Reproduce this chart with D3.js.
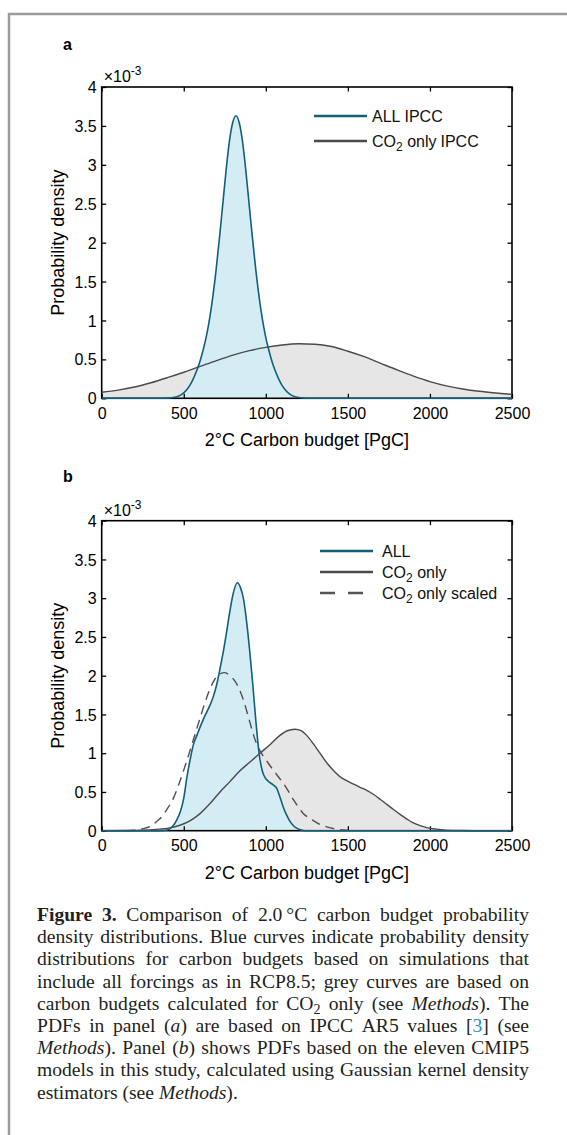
<!DOCTYPE html>
<html>
<head>
<meta charset="utf-8">
<script src="https://cdn.jsdelivr.net/npm/d3@7"></script>
<style>
html,body{margin:0;padding:0;background:#fff;}
svg{display:block;}
.sans{font-family:"Liberation Sans",Arial,Helvetica,sans-serif;}
.serif{font-family:"Liberation Serif","Times New Roman",serif;}
</style>
</head>
<body>
<div id="chart"></div>
<script>
// ---------------- DATA (values in units of 1e-3) ----------------
const xTicks = [0, 500, 1000, 1500, 2000, 2500];
const xTickLabels = ["0", "500", "1000", "1500", "2000", "2500"];
const yTicks = [0, 0.5, 1, 1.5, 2, 2.5, 3, 3.5, 4];
const yTickLabels = ["0", "0.5", "1", "1.5", "2", "2.5", "3", "3.5", "4"];

// Panel a: ALL IPCC
const aAllX = [0, 378, 418, 458, 488, 518, 538, 558, 578, 598, 618, 638, 658, 678, 698, 718, 738, 758, 778, 798, 818, 838, 858, 878, 898, 918, 938, 958, 978, 998, 1018, 1038, 1058, 1078, 1098, 1118, 1148, 1178, 1218, 1258, 2500];
const aAllY = [0, 0, 0.005, 0.02, 0.05, 0.11, 0.17, 0.25, 0.35, 0.47, 0.62, 0.8, 1.03, 1.32, 1.67, 2.07, 2.5, 2.93, 3.3, 3.54, 3.63, 3.54, 3.3, 2.93, 2.5, 2.07, 1.67, 1.32, 1.03, 0.8, 0.62, 0.47, 0.35, 0.25, 0.17, 0.11, 0.05, 0.02, 0.005, 0, 0];
// Panel a: CO2 only IPCC
const aCo2X = [0, 100, 200, 300, 400, 500, 600, 700, 800, 900, 1000, 1100, 1200, 1300, 1400, 1500, 1600, 1700, 1800, 1900, 2000, 2100, 2200, 2300, 2400, 2500];
const aCo2Y = [0.077, 0.105, 0.145, 0.2, 0.265, 0.335, 0.41, 0.485, 0.555, 0.612, 0.655, 0.685, 0.70, 0.695, 0.665, 0.605, 0.535, 0.45, 0.365, 0.285, 0.215, 0.16, 0.12, 0.09, 0.068, 0.05];

// Panel b: ALL
const bAllX = [0, 350, 400, 430, 460, 480, 500, 520, 540, 560, 580, 600, 620, 640, 660, 680, 700, 720, 740, 760, 780, 800, 826, 845, 863, 880, 900, 920, 940, 960, 980, 1000, 1020, 1045, 1066, 1085, 1107, 1127, 1147, 1170, 1200, 1240, 2500];
const bAllY = [0, 0, 0.01, 0.05, 0.15, 0.25, 0.42, 0.7, 0.93, 1.12, 1.23, 1.34, 1.44, 1.53, 1.62, 1.73, 1.88, 2.08, 2.3, 2.55, 2.82, 3.05, 3.2, 3.14, 3.0, 2.75, 2.36, 1.9, 1.4, 0.98, 0.76, 0.67, 0.63, 0.59, 0.55, 0.44, 0.30, 0.20, 0.12, 0.06, 0.02, 0, 0];
// Panel b: CO2 only
const bCo2X = [0, 150, 250, 350, 400, 477, 540, 599, 660, 721, 780, 841, 900, 965, 1030, 1086, 1130, 1178, 1215, 1249, 1290, 1330, 1370, 1411, 1450, 1493, 1535, 1574, 1615, 1655, 1700, 1737, 1780, 1818, 1860, 1899, 1940, 1980, 2040, 2100, 2200, 2300, 2500];
const bCo2Y = [0, 0.002, 0.006, 0.02, 0.03, 0.07, 0.13, 0.22, 0.35, 0.5, 0.63, 0.77, 0.88, 1.0, 1.12, 1.23, 1.29, 1.31, 1.29, 1.23, 1.12, 1.0, 0.88, 0.78, 0.70, 0.645, 0.60, 0.56, 0.52, 0.47, 0.40, 0.34, 0.27, 0.21, 0.15, 0.10, 0.065, 0.04, 0.02, 0.008, 0.002, 0, 0];
// Panel b: CO2 only scaled (dashed)
const bScX = [150, 200, 250, 300, 335, 370, 396, 437, 477, 518, 558, 599, 640, 680, 715, 751, 780, 812, 863, 900, 924, 960, 985, 1015, 1046, 1075, 1107, 1140, 1168, 1200, 1229, 1260, 1290, 1330, 1371, 1430, 1500, 1550];
const bScY = [0, 0.008, 0.025, 0.06, 0.12, 0.19, 0.27, 0.42, 0.64, 0.9, 1.17, 1.45, 1.72, 1.92, 2.02, 2.04, 2.0, 1.93, 1.69, 1.42, 1.24, 1.05, 0.96, 0.87, 0.78, 0.70, 0.61, 0.50, 0.40, 0.30, 0.22, 0.17, 0.13, 0.08, 0.05, 0.02, 0.005, 0];

const legendA = ["ALL", "CO2 only"];
const legendB = ["ALL", "CO2 only", "CO2 only scaled"];
const xTitle = "2\u00B0C Carbon budget [PgC]";
const yTitle = "Probability density";

const captionLines = [
  "**Figure** **3.** Comparison of 2.0\u2009\u00B0C carbon budget probability",
  "density distributions. Blue curves indicate probability density",
  "distributions for carbon budgets based on simulations that",
  "include all forcings as in RCP8.5; grey curves are based on",
  "carbon budgets calculated for CO~2~ only (see *Methods*). The",
  "PDFs in panel (*a*) are based on IPCC AR5 values [{3}] (see",
  "*Methods*). Panel (*b*) shows PDFs based on the eleven CMIP5",
  "models in this study, calculated using Gaussian kernel density",
  "estimators (see *Methods*)."
];

// ---------------- STYLE ----------------
const W = 567, H = 1135;
const teal = "#106079", blueFill = "#d4edf4", greyLine = "#4a4a4a", greyFill = "#e6e6e6";

const svg = d3.select("#chart").append("svg").attr("width", W).attr("height", H);
svg.append("rect").attr("width", W).attr("height", H).attr("fill", "#fff");

// frame
svg.append("path").attr("d", "M9,1135V14H567").attr("fill", "none")
  .attr("stroke", "#9b9b9b").attr("stroke-width", 2.5);

const x = d3.scaleLinear().domain([0, 2500]).range([101.7, 512]);

function zip(xs, ys) { return xs.map((v, i) => [v, ys[i]]); }

function panel(cfg) {
  const y = d3.scaleLinear().domain([0, 4]).range([cfg.y0, cfg.y1]);
  const g = svg.append("g");
  const area = d3.area().x(d => x(d[0])).y0(y(0)).y1(d => y(d[1])).curve(d3.curveMonotoneX);
  const line = d3.line().x(d => x(d[0])).y(d => y(d[1])).curve(d3.curveMonotoneX);

  // fills
  g.append("path").attr("d", area(zip(cfg.greyX, cfg.greyY))).attr("fill", greyFill);
  g.append("path").attr("d", area(zip(cfg.blueX, cfg.blueY))).attr("fill", blueFill);

  // axes (box with inward ticks)
  const tk = 4.5;
  const ax = g.append("g").attr("class", "sans");
  const bottom = ax.append("g").attr("transform", `translate(0,${y(0)})`)
    .call(d3.axisBottom(x).tickValues(xTicks).tickFormat((d, i) => xTickLabels[i]).tickSize(-tk).tickSizeOuter(0).tickPadding(6));
  ax.append("g").attr("transform", `translate(0,${y(4)})`)
    .call(d3.axisTop(x).tickValues(xTicks).tickFormat("").tickSize(-tk).tickSizeOuter(0));
  const left = ax.append("g").attr("transform", `translate(${x(0)},0)`)
    .call(d3.axisLeft(y).tickValues(yTicks).tickFormat((d, i) => yTickLabels[i]).tickSize(-tk).tickSizeOuter(0).tickPadding(5));
  ax.append("g").attr("transform", `translate(${x(2500)},0)`)
    .call(d3.axisRight(y).tickValues(yTicks).tickFormat("").tickSize(-tk).tickSizeOuter(0));
  ax.selectAll(".domain").remove();
  ax.selectAll(".tick line").attr("stroke", "#000").attr("stroke-width", 1.3);
  ax.selectAll(".tick text").attr("font-size", 16).attr("fill", "#000")
    .attr("font-family", '"Liberation Sans",Arial,sans-serif');
  bottom.selectAll(".tick text").attr("dy", null).attr("y", 0)
    .attr("transform", `translate(0,${cfg.xlabBase - y(0)})`);
  left.selectAll(".tick text").attr("dy", "0.35em");
  g.append("rect").attr("x", x(0)).attr("y", y(4)).attr("width", x(2500) - x(0)).attr("height", y(0) - y(4))
    .attr("fill", "none").attr("stroke", "#000").attr("stroke-width", 1.6);

  // lines
  g.append("path").attr("d", line(zip(cfg.greyX, cfg.greyY))).attr("fill", "none")
    .attr("stroke", greyLine).attr("stroke-width", 1.4);
  if (cfg.dashX) {
    g.append("path").attr("d", line(zip(cfg.dashX, cfg.dashY))).attr("fill", "none")
      .attr("stroke", "#4f4f4f").attr("stroke-width", 1.4).attr("stroke-dasharray", "9,6");
  }
  g.append("path").attr("d", line(zip(cfg.blueX, cfg.blueY))).attr("fill", "none")
    .attr("stroke", teal).attr("stroke-width", 1.6);

  // exponent label
  const ex = g.append("text").attr("class", "sans").attr("x", x(0) + 2).attr("y", y(4) - 5)
    .attr("font-size", 16).attr("fill", "#000");
  ex.append("tspan").text("\u00D710");
  ex.append("tspan").attr("dy", -7).attr("font-size", 12).text("-3");

  // panel letter
  g.append("text").attr("class", "sans").attr("x", 63).attr("y", cfg.letterY)
    .attr("font-size", 16).attr("font-weight", "bold").text(cfg.letter);

  // axis titles
  g.append("text").attr("class", "sans").attr("x", (x(0) + x(2500)) / 2).attr("y", cfg.xtitleY)
    .attr("text-anchor", "middle").attr("font-size", 18).text(xTitle);
  g.append("text").attr("class", "sans").attr("text-anchor", "middle").attr("font-size", 18)
    .attr("transform", `translate(63.5,${(y(0) + y(4)) / 2}) rotate(-90)`).text(yTitle);

  // legend
  cfg.legend.forEach((it, i) => {
    const ly = cfg.legY[i];
    g.append("line").attr("x1", cfg.legX0).attr("x2", it.dash ? cfg.legX1 - 8 : cfg.legX1).attr("y1", ly).attr("y2", ly)
      .attr("stroke", it.color).attr("stroke-width", 2.6)
      .attr("stroke-dasharray", it.dash ? "15,13" : null);
    const t = g.append("text").attr("class", "sans").attr("x", cfg.legTX).attr("y", ly + 5.5)
      .attr("font-size", 16).attr("fill", "#111");
    const lab = it.label;
    if (lab.startsWith("CO2")) {
      t.append("tspan").text("CO");
      t.append("tspan").attr("dy", 4).attr("font-size", 12).text("2");
      t.append("tspan").attr("dy", -4).text(lab.slice(3));
    } else {
      t.append("tspan").text(lab);
    }
    if (it.suffix) t.append("tspan").attr("dx", 4).text(it.suffix);
  });
}

panel({
  y0: 398.3, y1: 87, xlabBase: 418.5, xtitleY: 446, letter: "a", letterY: 50,
  blueX: aAllX, blueY: aAllY, greyX: aCo2X, greyY: aCo2Y,
  legX0: 314, legX1: 367, legTX: 372, legY: [116, 141],
  legend: [{ label: legendA[0], suffix: "IPCC", color: teal }, { label: legendA[1], suffix: "IPCC", color: greyLine }]
});
panel({
  y0: 830.7, y1: 520.7, xlabBase: 851, xtitleY: 879, letter: "b", letterY: 482,
  blueX: bAllX, blueY: bAllY, greyX: bCo2X, greyY: bCo2Y, dashX: bScX, dashY: bScY,
  legX0: 320, legX1: 373, legTX: 382, legY: [551, 572, 593],
  legend: [{ label: legendB[0], color: teal }, { label: legendB[1], color: greyLine }, { label: legendB[2], color: "#555", dash: true }]
});

// ---------------- CAPTION ----------------
const capX0 = 37, capX1 = 529, capY0 = 921, capDY = 22.2, capFS = 19.6;
const cap = svg.append("g").attr("class", "serif").attr("fill", "#231f20");

function buildWord(parent, word, xx, yy) {
  const t = parent.append("text").attr("x", xx).attr("y", yy).attr("font-size", capFS);
  const parts = word.split(/(\*\*[^*]+\*\*|\*[^*]+\*|~[^~]+~|\{[^}]+\})/).filter(s => s.length);
  let shifted = false;
  parts.forEach(p => {
    const s = t.append("tspan");
    if (shifted) { s.attr("dy", -4); shifted = false; }
    if (p.startsWith("**")) s.attr("font-weight", "bold").text(p.slice(2, -2));
    else if (p.startsWith("*")) s.attr("font-style", "italic").text(p.slice(1, -1));
    else if (p.startsWith("~")) { s.attr("dy", 4).attr("font-size", capFS * 0.72).text(p.slice(1, -1)); shifted = true; }
    else if (p.startsWith("{")) s.attr("fill", "#2b8cc4").text(p.slice(1, -1));
    else s.text(p);
  });
  return t;
}

const spaceProbe = cap.append("text").attr("font-size", capFS).text("a a");
const aProbe = cap.append("text").attr("font-size", capFS).text("aa");
const spaceW = spaceProbe.node().getComputedTextLength() - aProbe.node().getComputedTextLength();
spaceProbe.remove(); aProbe.remove();

captionLines.forEach((ln, li) => {
  const yy = capY0 + li * capDY;
  const words = ln.split(" ");
  const nodes = words.map(w => buildWord(cap, w, 0, yy));
  const widths = nodes.map(n => n.node().getComputedTextLength());
  const total = d3.sum(widths);
  const last = li === captionLines.length - 1;
  const gap = last ? spaceW : (capX1 - capX0 - total) / (words.length - 1);
  let cx = capX0;
  nodes.forEach((n, i) => { n.attr("x", cx); cx += widths[i] + gap; });
});
</script>
</body>
</html>
